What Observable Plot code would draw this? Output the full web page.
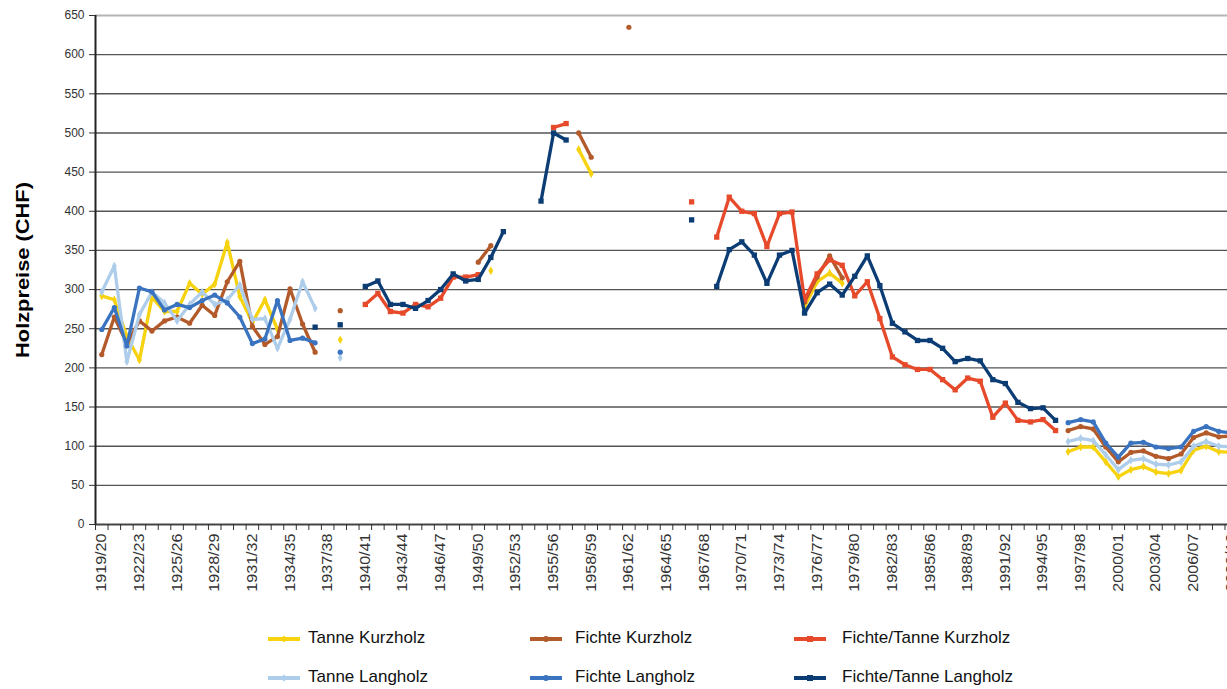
<!DOCTYPE html>
<html><head><meta charset="utf-8">
<script src="https://cdn.jsdelivr.net/npm/d3@7"></script>
<script src="https://cdn.jsdelivr.net/npm/@observablehq/plot@0.6"></script>
<style>
body{margin:0;background:#fff;font-family:"Liberation Sans",Arial,sans-serif;}
#wrap{position:relative;width:1227px;height:689px;overflow:hidden;background:#fff;}
.sw{position:absolute;width:32px;height:4px;}
.mk{position:absolute;left:13px;top:-1px;width:6px;height:6px;}
.lt{position:absolute;font-size:17px;color:#111;white-space:nowrap;line-height:20px;}
</style></head><body><div id="wrap"><div id="chart"></div><div id="legend"></div></div>
<script>
// categories: first calendar year of each season (1919 = "1919/20")
const years = [
 1919,1920,1921,1922,1923,1924,1925,1926,1927,1928,
 1929,1930,1931,1932,1933,1934,1935,1936,1937,1938,
 1939,1940,1941,1942,1943,1944,1945,1946,1947,1948,
 1949,1950,1951,1952,1953,1954,1955,1956,1957,1958,
 1959,1960,1961,1962,1963,1964,1965,1966,1967,1968,
 1969,1970,1971,1972,1973,1974,1975,1976,1977,1978,
 1979,1980,1981,1982,1983,1984,1985,1986,1987,1988,
 1989,1990,1991,1992,1993,1994,1995,1996,1997,1998,
 1999,2000,2001,2002,2003,2004,2005,2006,2007,2008,
 2009];
const N = null;
const tanneKurzholz = [
 292,287,240,210,290,272,272,308,294,307,
 360,291,258,287,249,N,N,N,N,236,
 N,N,N,N,N,N,N,N,N,N,
 N,324,N,N,N,N,N,N,479,448,
 N,N,N,N,N,N,N,N,N,N,
 N,N,N,N,N,N,278,310,321,308,
 N,N,N,N,N,N,N,N,N,N,
 N,N,N,N,N,N,N,93,99,99,
 80,61,70,74,67,65,69,95,100,93,
 92];
const fichteKurzholz = [
 217,265,231,260,247,260,265,257,280,267,
 310,336,253,230,240,301,256,220,N,273,
 N,N,N,N,N,N,N,N,N,N,
 335,356,N,N,N,N,N,N,500,469,
 N,N,635,N,N,N,N,N,N,N,
 N,N,N,N,N,N,284,316,343,315,
 N,N,N,N,N,N,N,N,N,N,
 N,N,N,N,N,N,N,120,125,122,
 99,80,92,94,87,84,90,111,117,112,
 113];
const fichteTanneKurzholz = [
 N,N,N,N,N,N,N,N,N,N,
 N,N,N,N,N,N,N,N,N,N,
 N,281,295,272,270,281,278,289,316,316,
 319,N,N,N,N,N,507,512,N,N,
 N,N,N,N,N,N,N,412,N,367,
 418,400,397,355,397,399,287,320,338,331,
 292,310,263,214,204,198,198,185,172,187,
 183,137,155,133,131,134,120,N,N,N,
 N,N,N,N,N,N,N,N,N,N,
 N];
const tanneLangholz = [
 297,330,208,268,297,283,260,281,297,281,
 287,306,262,263,225,262,310,276,N,213,
 N,N,N,N,N,N,N,N,N,N,
 N,N,N,N,N,N,N,N,N,N,
 N,N,N,N,N,N,N,N,N,N,
 N,N,N,N,N,N,N,N,N,N,
 N,N,N,N,N,N,N,N,N,N,
 N,N,N,N,N,N,N,106,110,107,
 89,70,82,84,77,76,80,100,106,100,
 99];
const fichteLangholz = [
 249,277,228,302,297,274,281,277,286,293,
 283,265,231,237,286,235,238,232,N,220,
 N,N,N,N,N,N,N,N,N,N,
 N,N,N,N,N,N,N,N,N,N,
 N,N,N,N,N,N,N,N,N,N,
 N,N,N,N,N,N,N,N,N,N,
 N,N,N,N,N,N,N,N,N,N,
 N,N,N,N,N,N,N,130,134,131,
 104,86,104,105,99,97,99,119,125,119,
 117];
const fichteTanneLangholz = [
 N,N,N,N,N,N,N,N,N,N,
 N,N,N,N,N,N,N,252,N,255,
 N,304,311,281,281,276,286,300,320,311,
 313,341,374,N,N,413,500,491,N,N,
 N,N,N,N,N,N,N,389,N,304,
 351,361,344,308,344,350,270,296,307,293,
 317,343,305,257,246,235,235,225,208,212,
 209,185,180,156,148,149,133,N,N,N,
 N,N,N,N,N,N,N,N,N,N,
 N];
const seriesNames = ["Tanne Kurzholz","Fichte Kurzholz","Fichte/Tanne Kurzholz","Tanne Langholz","Fichte Langholz","Fichte/Tanne Langholz"];
const seriesValues = [tanneKurzholz,fichteKurzholz,fichteTanneKurzholz,tanneLangholz,fichteLangholz,fichteTanneLangholz];
const seriesColors = ["#F7D20F","#B35A2B","#E64A2A","#AECDEA","#3A73BF","#0C3C74"];
const seriesSymbols = ["diamond","circle","square","diamond","circle","square"];
const labelYears = [1919,1922,1925,1928,1931,1934,1937,1940,1943,1946,1949,1952,1955,1958,1961,1964,1967,1970,1973,1976,1979,1982,1985,1988,1991,1994,1997,2000,2003,2006,2009];
const yTicks = [0,50,100,150,200,250,300,350,400,450,500,550,600,650];
const yTitle = "Holzpreise (CHF)";

const fmt = y => `${y}/${String((y + 1) % 100).padStart(2, "0")}`;
const boundaries = years.map(y => y - 0.5);

const marks = [
  Plot.ruleY(yTicks.filter(v => v > 0 && v < 650), {stroke: "#555", strokeWidth: 1.4}),
  Plot.ruleY([650], {stroke: "#b4b4b4", strokeWidth: 2}),
  Plot.ruleY([0], {stroke: "#444", strokeWidth: 2}),
  Plot.ruleX([1918.5], {stroke: "#222", strokeWidth: 2}),
  Plot.axisY({ticks: yTicks, tickSize: 6, tickPadding: 5, fontSize: 12, color: "#333", label: null, tickFormat: d => String(d)}),
  Plot.axisX({ticks: boundaries, tickSize: 6, tickFormat: () => "", label: null, color: "#333"}),
  Plot.axisX({ticks: labelYears, tickSize: 0, tickPadding: 9, tickRotate: -90, tickFormat: fmt, fontSize: 14, color: "#333", label: null, className: "xlab"}),
  Plot.text([yTitle], {frameAnchor: "left", textAnchor: "middle", rotate: -90, dx: -73, fontWeight: "bold", fontSize: 19, fill: "#000", className: "ytitle"})
];
seriesValues.forEach((vals, k) => {
  const rows = years.map((yr, i) => ({year: yr, value: vals[i], series: seriesNames[k]}));
  marks.push(Plot.line(rows, {x: "year", y: "value", stroke: seriesColors[k], strokeWidth: 3.3, strokeLinejoin: "round", clip: true}));
  marks.push(Plot.dot(rows.filter(d => d.value != null), {x: "year", y: "value", fill: seriesColors[k], symbol: seriesSymbols[k], r: seriesSymbols[k] === "square" ? 3 : 2.6, clip: true}));
});

const chart = Plot.plot({
  width: 1227, height: 610,
  marginLeft: 95, marginRight: 0, marginTop: 15, marginBottom: 86,
  style: {background: "white", fontFamily: "Liberation Sans, Arial, sans-serif"},
  x: {type: "linear", domain: [1918.5, 2008.7]},
  y: {domain: [0, 650]},
  marks
});
document.getElementById("chart").appendChild(chart);

// stretch rotated texts along their length (reference is slightly stretched vertically)
d3.select(chart).selectAll(".xlab text, .ytitle text").each(function() {
  const t = this.getAttribute("transform") || "";
  this.setAttribute("transform", t + " scale(1.15,1)");
});

// legend
const legend = document.getElementById("legend");
const cols = [{sw: 268, tx: 308}, {sw: 530, tx: 575}, {sw: 794, tx: 842}];
const rowsY = [639, 678];
seriesNames.forEach((name, k) => {
  const c = cols[k % 3], ry = rowsY[Math.floor(k / 3)];
  const sw = document.createElement("div");
  sw.className = "sw";
  sw.style.left = c.sw + "px"; sw.style.top = (ry - 2) + "px"; sw.style.background = seriesColors[k];
  const mk = document.createElement("div");
  mk.className = "mk"; mk.style.background = seriesColors[k];
  if (seriesSymbols[k] === "circle") mk.style.borderRadius = "50%";
  if (seriesSymbols[k] === "diamond") mk.style.transform = "rotate(45deg) scale(0.8)";
  sw.appendChild(mk);
  legend.appendChild(sw);
  const tx = document.createElement("div");
  tx.className = "lt"; tx.textContent = name;
  tx.style.left = c.tx + "px"; tx.style.top = (ry - 11) + "px";
  legend.appendChild(tx);
});
</script></body></html>
